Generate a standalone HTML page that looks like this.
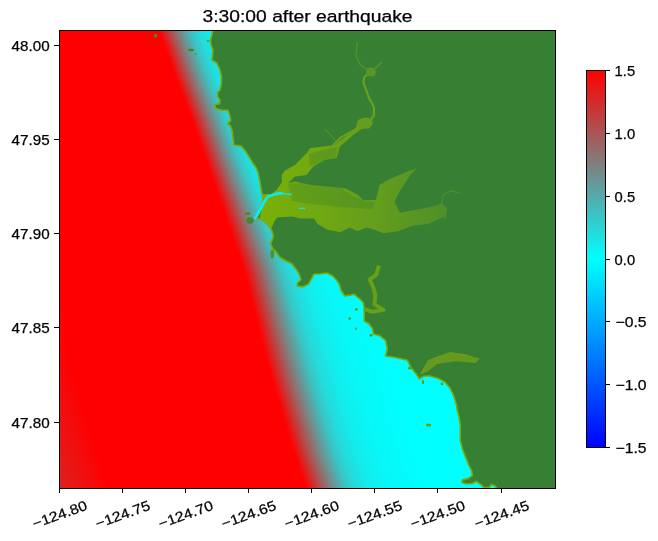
<!DOCTYPE html>
<html><head><meta charset="utf-8"><style>html,body{margin:0;padding:0;background:#fff;width:658px;height:541px;overflow:hidden;position:relative} svg{will-change:transform}</style></head>
<body>
<svg width="658" height="541" style="position:absolute;left:0;top:0">
<defs><linearGradient id="wg" gradientUnits="userSpaceOnUse" x1="-600" y1="0" x2="600" y2="0"><stop offset="0.0000" stop-color="rgb(212,43,43)"/><stop offset="0.2833" stop-color="rgb(212,43,43)"/><stop offset="0.3367" stop-color="rgb(255,0,0)"/><stop offset="0.5000" stop-color="rgb(255,0,0)"/><stop offset="0.5067" stop-color="rgb(212,43,43)"/><stop offset="0.5133" stop-color="rgb(168,87,87)"/><stop offset="0.5200" stop-color="rgb(128,128,128)"/><stop offset="0.5267" stop-color="rgb(92,163,163)"/><stop offset="0.5333" stop-color="rgb(59,196,196)"/><stop offset="0.5417" stop-color="rgb(36,219,219)"/><stop offset="0.5542" stop-color="rgb(18,237,237)"/><stop offset="0.5708" stop-color="rgb(8,247,247)"/><stop offset="0.5917" stop-color="rgb(3,252,252)"/><stop offset="0.6083" stop-color="rgb(0,255,255)"/><stop offset="1.0000" stop-color="rgb(0,255,255)"/></linearGradient><clipPath id="ax"><rect x="59" y="30" width="497" height="459"/></clipPath></defs>
<g clip-path="url(#ax)">
<rect x="59" y="30" width="497" height="459" fill="rgb(0,255,255)"/>
<g><rect x="-600" y="30" width="1200" height="2" transform="translate(159.07,0) scale(0.800,1)" fill="url(#wg)"/><rect x="-600" y="32" width="1200" height="2" transform="translate(159.78,0) scale(0.800,1)" fill="url(#wg)"/><rect x="-600" y="34" width="1200" height="2" transform="translate(160.49,0) scale(0.800,1)" fill="url(#wg)"/><rect x="-600" y="36" width="1200" height="2" transform="translate(161.20,0) scale(0.800,1)" fill="url(#wg)"/><rect x="-600" y="38" width="1200" height="2" transform="translate(161.91,0) scale(0.800,1)" fill="url(#wg)"/><rect x="-600" y="40" width="1200" height="2" transform="translate(162.62,0) scale(0.800,1)" fill="url(#wg)"/><rect x="-600" y="42" width="1200" height="2" transform="translate(163.34,0) scale(0.800,1)" fill="url(#wg)"/><rect x="-600" y="44" width="1200" height="2" transform="translate(164.05,0) scale(0.800,1)" fill="url(#wg)"/><rect x="-600" y="46" width="1200" height="2" transform="translate(164.76,0) scale(0.800,1)" fill="url(#wg)"/><rect x="-600" y="48" width="1200" height="2" transform="translate(165.47,0) scale(0.800,1)" fill="url(#wg)"/><rect x="-600" y="50" width="1200" height="2" transform="translate(166.18,0) scale(0.800,1)" fill="url(#wg)"/><rect x="-600" y="52" width="1200" height="2" transform="translate(166.89,0) scale(0.800,1)" fill="url(#wg)"/><rect x="-600" y="54" width="1200" height="2" transform="translate(167.61,0) scale(0.800,1)" fill="url(#wg)"/><rect x="-600" y="56" width="1200" height="2" transform="translate(168.32,0) scale(0.800,1)" fill="url(#wg)"/><rect x="-600" y="58" width="1200" height="2" transform="translate(169.03,0) scale(0.800,1)" fill="url(#wg)"/><rect x="-600" y="60" width="1200" height="2" transform="translate(169.74,0) scale(0.800,1)" fill="url(#wg)"/><rect x="-600" y="62" width="1200" height="2" transform="translate(170.45,0) scale(0.800,1)" fill="url(#wg)"/><rect x="-600" y="64" width="1200" height="2" transform="translate(171.16,0) scale(0.800,1)" fill="url(#wg)"/><rect x="-600" y="66" width="1200" height="2" transform="translate(171.88,0) scale(0.800,1)" fill="url(#wg)"/><rect x="-600" y="68" width="1200" height="2" transform="translate(172.59,0) scale(0.800,1)" fill="url(#wg)"/><rect x="-600" y="70" width="1200" height="2" transform="translate(173.30,0) scale(0.800,1)" fill="url(#wg)"/><rect x="-600" y="72" width="1200" height="2" transform="translate(174.01,0) scale(0.800,1)" fill="url(#wg)"/><rect x="-600" y="74" width="1200" height="2" transform="translate(174.72,0) scale(0.800,1)" fill="url(#wg)"/><rect x="-600" y="76" width="1200" height="2" transform="translate(175.43,0) scale(0.800,1)" fill="url(#wg)"/><rect x="-600" y="78" width="1200" height="2" transform="translate(176.14,0) scale(0.800,1)" fill="url(#wg)"/><rect x="-600" y="80" width="1200" height="2" transform="translate(176.89,0) scale(0.800,1)" fill="url(#wg)"/><rect x="-600" y="82" width="1200" height="2" transform="translate(177.66,0) scale(0.800,1)" fill="url(#wg)"/><rect x="-600" y="84" width="1200" height="2" transform="translate(178.44,0) scale(0.800,1)" fill="url(#wg)"/><rect x="-600" y="86" width="1200" height="2" transform="translate(179.21,0) scale(0.800,1)" fill="url(#wg)"/><rect x="-600" y="88" width="1200" height="2" transform="translate(179.99,0) scale(0.800,1)" fill="url(#wg)"/><rect x="-600" y="90" width="1200" height="2" transform="translate(180.76,0) scale(0.800,1)" fill="url(#wg)"/><rect x="-600" y="92" width="1200" height="2" transform="translate(181.54,0) scale(0.800,1)" fill="url(#wg)"/><rect x="-600" y="94" width="1200" height="2" transform="translate(182.31,0) scale(0.800,1)" fill="url(#wg)"/><rect x="-600" y="96" width="1200" height="2" transform="translate(183.09,0) scale(0.800,1)" fill="url(#wg)"/><rect x="-600" y="98" width="1200" height="2" transform="translate(183.86,0) scale(0.800,1)" fill="url(#wg)"/><rect x="-600" y="100" width="1200" height="2" transform="translate(184.64,0) scale(0.800,1)" fill="url(#wg)"/><rect x="-600" y="102" width="1200" height="2" transform="translate(185.41,0) scale(0.800,1)" fill="url(#wg)"/><rect x="-600" y="104" width="1200" height="2" transform="translate(186.19,0) scale(0.800,1)" fill="url(#wg)"/><rect x="-600" y="106" width="1200" height="2" transform="translate(186.96,0) scale(0.800,1)" fill="url(#wg)"/><rect x="-600" y="108" width="1200" height="2" transform="translate(187.74,0) scale(0.800,1)" fill="url(#wg)"/><rect x="-600" y="110" width="1200" height="2" transform="translate(188.51,0) scale(0.800,1)" fill="url(#wg)"/><rect x="-600" y="112" width="1200" height="2" transform="translate(189.29,0) scale(0.800,1)" fill="url(#wg)"/><rect x="-600" y="114" width="1200" height="2" transform="translate(190.06,0) scale(0.800,1)" fill="url(#wg)"/><rect x="-600" y="116" width="1200" height="2" transform="translate(190.84,0) scale(0.800,1)" fill="url(#wg)"/><rect x="-600" y="118" width="1200" height="2" transform="translate(191.61,0) scale(0.800,1)" fill="url(#wg)"/><rect x="-600" y="120" width="1200" height="2" transform="translate(192.35,0) scale(0.800,1)" fill="url(#wg)"/><rect x="-600" y="122" width="1200" height="2" transform="translate(193.05,0) scale(0.800,1)" fill="url(#wg)"/><rect x="-600" y="124" width="1200" height="2" transform="translate(193.75,0) scale(0.800,1)" fill="url(#wg)"/><rect x="-600" y="126" width="1200" height="2" transform="translate(194.45,0) scale(0.800,1)" fill="url(#wg)"/><rect x="-600" y="128" width="1200" height="2" transform="translate(195.15,0) scale(0.800,1)" fill="url(#wg)"/><rect x="-600" y="130" width="1200" height="2" transform="translate(195.85,0) scale(0.800,1)" fill="url(#wg)"/><rect x="-600" y="132" width="1200" height="2" transform="translate(196.55,0) scale(0.800,1)" fill="url(#wg)"/><rect x="-600" y="134" width="1200" height="2" transform="translate(197.25,0) scale(0.800,1)" fill="url(#wg)"/><rect x="-600" y="136" width="1200" height="2" transform="translate(197.95,0) scale(0.800,1)" fill="url(#wg)"/><rect x="-600" y="138" width="1200" height="2" transform="translate(198.65,0) scale(0.800,1)" fill="url(#wg)"/><rect x="-600" y="140" width="1200" height="2" transform="translate(199.35,0) scale(0.800,1)" fill="url(#wg)"/><rect x="-600" y="142" width="1200" height="2" transform="translate(200.05,0) scale(0.800,1)" fill="url(#wg)"/><rect x="-600" y="144" width="1200" height="2" transform="translate(200.75,0) scale(0.800,1)" fill="url(#wg)"/><rect x="-600" y="146" width="1200" height="2" transform="translate(201.45,0) scale(0.800,1)" fill="url(#wg)"/><rect x="-600" y="148" width="1200" height="2" transform="translate(202.15,0) scale(0.800,1)" fill="url(#wg)"/><rect x="-600" y="150" width="1200" height="2" transform="translate(202.85,0) scale(0.800,1)" fill="url(#wg)"/><rect x="-600" y="152" width="1200" height="2" transform="translate(203.55,0) scale(0.802,1)" fill="url(#wg)"/><rect x="-600" y="154" width="1200" height="2" transform="translate(204.25,0) scale(0.804,1)" fill="url(#wg)"/><rect x="-600" y="156" width="1200" height="2" transform="translate(204.95,0) scale(0.806,1)" fill="url(#wg)"/><rect x="-600" y="158" width="1200" height="2" transform="translate(205.65,0) scale(0.808,1)" fill="url(#wg)"/><rect x="-600" y="160" width="1200" height="2" transform="translate(206.35,0) scale(0.810,1)" fill="url(#wg)"/><rect x="-600" y="162" width="1200" height="2" transform="translate(207.05,0) scale(0.812,1)" fill="url(#wg)"/><rect x="-600" y="164" width="1200" height="2" transform="translate(207.75,0) scale(0.814,1)" fill="url(#wg)"/><rect x="-600" y="166" width="1200" height="2" transform="translate(208.45,0) scale(0.816,1)" fill="url(#wg)"/><rect x="-600" y="168" width="1200" height="2" transform="translate(209.15,0) scale(0.818,1)" fill="url(#wg)"/><rect x="-600" y="170" width="1200" height="2" transform="translate(209.85,0) scale(0.820,1)" fill="url(#wg)"/><rect x="-600" y="172" width="1200" height="2" transform="translate(210.55,0) scale(0.822,1)" fill="url(#wg)"/><rect x="-600" y="174" width="1200" height="2" transform="translate(211.25,0) scale(0.824,1)" fill="url(#wg)"/><rect x="-600" y="176" width="1200" height="2" transform="translate(211.95,0) scale(0.826,1)" fill="url(#wg)"/><rect x="-600" y="178" width="1200" height="2" transform="translate(212.65,0) scale(0.828,1)" fill="url(#wg)"/><rect x="-600" y="180" width="1200" height="2" transform="translate(213.35,0) scale(0.830,1)" fill="url(#wg)"/><rect x="-600" y="182" width="1200" height="2" transform="translate(214.05,0) scale(0.832,1)" fill="url(#wg)"/><rect x="-600" y="184" width="1200" height="2" transform="translate(214.75,0) scale(0.834,1)" fill="url(#wg)"/><rect x="-600" y="186" width="1200" height="2" transform="translate(215.45,0) scale(0.836,1)" fill="url(#wg)"/><rect x="-600" y="188" width="1200" height="2" transform="translate(216.15,0) scale(0.838,1)" fill="url(#wg)"/><rect x="-600" y="190" width="1200" height="2" transform="translate(216.85,0) scale(0.840,1)" fill="url(#wg)"/><rect x="-600" y="192" width="1200" height="2" transform="translate(217.55,0) scale(0.842,1)" fill="url(#wg)"/><rect x="-600" y="194" width="1200" height="2" transform="translate(218.25,0) scale(0.844,1)" fill="url(#wg)"/><rect x="-600" y="196" width="1200" height="2" transform="translate(218.95,0) scale(0.846,1)" fill="url(#wg)"/><rect x="-600" y="198" width="1200" height="2" transform="translate(219.65,0) scale(0.848,1)" fill="url(#wg)"/><rect x="-600" y="200" width="1200" height="2" transform="translate(220.34,0) scale(0.850,1)" fill="url(#wg)"/><rect x="-600" y="202" width="1200" height="2" transform="translate(221.03,0) scale(0.852,1)" fill="url(#wg)"/><rect x="-600" y="204" width="1200" height="2" transform="translate(221.71,0) scale(0.854,1)" fill="url(#wg)"/><rect x="-600" y="206" width="1200" height="2" transform="translate(222.40,0) scale(0.856,1)" fill="url(#wg)"/><rect x="-600" y="208" width="1200" height="2" transform="translate(223.09,0) scale(0.858,1)" fill="url(#wg)"/><rect x="-600" y="210" width="1200" height="2" transform="translate(223.77,0) scale(0.860,1)" fill="url(#wg)"/><rect x="-600" y="212" width="1200" height="2" transform="translate(224.46,0) scale(0.862,1)" fill="url(#wg)"/><rect x="-600" y="214" width="1200" height="2" transform="translate(225.14,0) scale(0.864,1)" fill="url(#wg)"/><rect x="-600" y="216" width="1200" height="2" transform="translate(225.83,0) scale(0.866,1)" fill="url(#wg)"/><rect x="-600" y="218" width="1200" height="2" transform="translate(226.51,0) scale(0.868,1)" fill="url(#wg)"/><rect x="-600" y="220" width="1200" height="2" transform="translate(227.20,0) scale(0.870,1)" fill="url(#wg)"/><rect x="-600" y="222" width="1200" height="2" transform="translate(227.89,0) scale(0.872,1)" fill="url(#wg)"/><rect x="-600" y="224" width="1200" height="2" transform="translate(228.57,0) scale(0.874,1)" fill="url(#wg)"/><rect x="-600" y="226" width="1200" height="2" transform="translate(229.26,0) scale(0.876,1)" fill="url(#wg)"/><rect x="-600" y="228" width="1200" height="2" transform="translate(229.94,0) scale(0.878,1)" fill="url(#wg)"/><rect x="-600" y="230" width="1200" height="2" transform="translate(230.63,0) scale(0.880,1)" fill="url(#wg)"/><rect x="-600" y="232" width="1200" height="2" transform="translate(231.31,0) scale(0.882,1)" fill="url(#wg)"/><rect x="-600" y="234" width="1200" height="2" transform="translate(232.00,0) scale(0.884,1)" fill="url(#wg)"/><rect x="-600" y="236" width="1200" height="2" transform="translate(232.69,0) scale(0.886,1)" fill="url(#wg)"/><rect x="-600" y="238" width="1200" height="2" transform="translate(233.37,0) scale(0.888,1)" fill="url(#wg)"/><rect x="-600" y="240" width="1200" height="2" transform="translate(234.06,0) scale(0.890,1)" fill="url(#wg)"/><rect x="-600" y="242" width="1200" height="2" transform="translate(234.74,0) scale(0.892,1)" fill="url(#wg)"/><rect x="-600" y="244" width="1200" height="2" transform="translate(235.43,0) scale(0.894,1)" fill="url(#wg)"/><rect x="-600" y="246" width="1200" height="2" transform="translate(236.11,0) scale(0.896,1)" fill="url(#wg)"/><rect x="-600" y="248" width="1200" height="2" transform="translate(236.80,0) scale(0.898,1)" fill="url(#wg)"/><rect x="-600" y="250" width="1200" height="2" transform="translate(237.49,0) scale(0.900,1)" fill="url(#wg)"/><rect x="-600" y="252" width="1200" height="2" transform="translate(238.17,0) scale(0.902,1)" fill="url(#wg)"/><rect x="-600" y="254" width="1200" height="2" transform="translate(238.86,0) scale(0.904,1)" fill="url(#wg)"/><rect x="-600" y="256" width="1200" height="2" transform="translate(239.54,0) scale(0.906,1)" fill="url(#wg)"/><rect x="-600" y="258" width="1200" height="2" transform="translate(240.23,0) scale(0.908,1)" fill="url(#wg)"/><rect x="-600" y="260" width="1200" height="2" transform="translate(240.91,0) scale(0.910,1)" fill="url(#wg)"/><rect x="-600" y="262" width="1200" height="2" transform="translate(241.60,0) scale(0.912,1)" fill="url(#wg)"/><rect x="-600" y="264" width="1200" height="2" transform="translate(242.29,0) scale(0.914,1)" fill="url(#wg)"/><rect x="-600" y="266" width="1200" height="2" transform="translate(242.97,0) scale(0.916,1)" fill="url(#wg)"/><rect x="-600" y="268" width="1200" height="2" transform="translate(243.66,0) scale(0.918,1)" fill="url(#wg)"/><rect x="-600" y="270" width="1200" height="2" transform="translate(244.25,0) scale(0.920,1)" fill="url(#wg)"/><rect x="-600" y="272" width="1200" height="2" transform="translate(244.75,0) scale(0.922,1)" fill="url(#wg)"/><rect x="-600" y="274" width="1200" height="2" transform="translate(245.25,0) scale(0.924,1)" fill="url(#wg)"/><rect x="-600" y="276" width="1200" height="2" transform="translate(245.75,0) scale(0.926,1)" fill="url(#wg)"/><rect x="-600" y="278" width="1200" height="2" transform="translate(246.25,0) scale(0.928,1)" fill="url(#wg)"/><rect x="-600" y="280" width="1200" height="2" transform="translate(246.75,0) scale(0.930,1)" fill="url(#wg)"/><rect x="-600" y="282" width="1200" height="2" transform="translate(247.25,0) scale(0.932,1)" fill="url(#wg)"/><rect x="-600" y="284" width="1200" height="2" transform="translate(247.75,0) scale(0.934,1)" fill="url(#wg)"/><rect x="-600" y="286" width="1200" height="2" transform="translate(248.25,0) scale(0.936,1)" fill="url(#wg)"/><rect x="-600" y="288" width="1200" height="2" transform="translate(248.75,0) scale(0.938,1)" fill="url(#wg)"/><rect x="-600" y="290" width="1200" height="2" transform="translate(249.25,0) scale(0.940,1)" fill="url(#wg)"/><rect x="-600" y="292" width="1200" height="2" transform="translate(249.75,0) scale(0.942,1)" fill="url(#wg)"/><rect x="-600" y="294" width="1200" height="2" transform="translate(250.25,0) scale(0.944,1)" fill="url(#wg)"/><rect x="-600" y="296" width="1200" height="2" transform="translate(250.75,0) scale(0.946,1)" fill="url(#wg)"/><rect x="-600" y="298" width="1200" height="2" transform="translate(251.25,0) scale(0.948,1)" fill="url(#wg)"/><rect x="-600" y="300" width="1200" height="2" transform="translate(251.75,0) scale(0.950,1)" fill="url(#wg)"/><rect x="-600" y="302" width="1200" height="2" transform="translate(252.25,0) scale(0.952,1)" fill="url(#wg)"/><rect x="-600" y="304" width="1200" height="2" transform="translate(252.75,0) scale(0.954,1)" fill="url(#wg)"/><rect x="-600" y="306" width="1200" height="2" transform="translate(253.25,0) scale(0.956,1)" fill="url(#wg)"/><rect x="-600" y="308" width="1200" height="2" transform="translate(253.75,0) scale(0.958,1)" fill="url(#wg)"/><rect x="-600" y="310" width="1200" height="2" transform="translate(254.25,0) scale(0.960,1)" fill="url(#wg)"/><rect x="-600" y="312" width="1200" height="2" transform="translate(254.75,0) scale(0.962,1)" fill="url(#wg)"/><rect x="-600" y="314" width="1200" height="2" transform="translate(255.25,0) scale(0.964,1)" fill="url(#wg)"/><rect x="-600" y="316" width="1200" height="2" transform="translate(255.75,0) scale(0.966,1)" fill="url(#wg)"/><rect x="-600" y="318" width="1200" height="2" transform="translate(256.25,0) scale(0.968,1)" fill="url(#wg)"/><rect x="-600" y="320" width="1200" height="2" transform="translate(256.75,0) scale(0.970,1)" fill="url(#wg)"/><rect x="-600" y="322" width="1200" height="2" transform="translate(257.25,0) scale(0.972,1)" fill="url(#wg)"/><rect x="-600" y="324" width="1200" height="2" transform="translate(257.75,0) scale(0.974,1)" fill="url(#wg)"/><rect x="-600" y="326" width="1200" height="2" transform="translate(258.25,0) scale(0.976,1)" fill="url(#wg)"/><rect x="-600" y="328" width="1200" height="2" transform="translate(258.75,0) scale(0.978,1)" fill="url(#wg)"/><rect x="-600" y="330" width="1200" height="2" transform="translate(259.25,0) scale(0.980,1)" fill="url(#wg)"/><rect x="-600" y="332" width="1200" height="2" transform="translate(259.75,0) scale(0.982,1)" fill="url(#wg)"/><rect x="-600" y="334" width="1200" height="2" transform="translate(260.25,0) scale(0.984,1)" fill="url(#wg)"/><rect x="-600" y="336" width="1200" height="2" transform="translate(260.75,0) scale(0.986,1)" fill="url(#wg)"/><rect x="-600" y="338" width="1200" height="2" transform="translate(261.25,0) scale(0.988,1)" fill="url(#wg)"/><rect x="-600" y="340" width="1200" height="2" transform="translate(261.75,0) scale(0.990,1)" fill="url(#wg)"/><rect x="-600" y="342" width="1200" height="2" transform="translate(262.25,0) scale(0.992,1)" fill="url(#wg)"/><rect x="-600" y="344" width="1200" height="2" transform="translate(262.75,0) scale(0.994,1)" fill="url(#wg)"/><rect x="-600" y="346" width="1200" height="2" transform="translate(263.25,0) scale(0.996,1)" fill="url(#wg)"/><rect x="-600" y="348" width="1200" height="2" transform="translate(263.75,0) scale(0.998,1)" fill="url(#wg)"/><rect x="-600" y="350" width="1200" height="2" transform="translate(264.27,0) scale(1.000,1)" fill="url(#wg)"/><rect x="-600" y="352" width="1200" height="2" transform="translate(264.80,0) scale(1.000,1)" fill="url(#wg)"/><rect x="-600" y="354" width="1200" height="2" transform="translate(265.33,0) scale(1.000,1)" fill="url(#wg)"/><rect x="-600" y="356" width="1200" height="2" transform="translate(265.87,0) scale(1.000,1)" fill="url(#wg)"/><rect x="-600" y="358" width="1200" height="2" transform="translate(266.40,0) scale(1.000,1)" fill="url(#wg)"/><rect x="-600" y="360" width="1200" height="2" transform="translate(266.93,0) scale(1.000,1)" fill="url(#wg)"/><rect x="-600" y="362" width="1200" height="2" transform="translate(267.47,0) scale(1.000,1)" fill="url(#wg)"/><rect x="-600" y="364" width="1200" height="2" transform="translate(268.00,0) scale(1.000,1)" fill="url(#wg)"/><rect x="-600" y="366" width="1200" height="2" transform="translate(268.53,0) scale(1.000,1)" fill="url(#wg)"/><rect x="-600" y="368" width="1200" height="2" transform="translate(269.07,0) scale(1.000,1)" fill="url(#wg)"/><rect x="-600" y="370" width="1200" height="2" transform="translate(269.60,0) scale(1.000,1)" fill="url(#wg)"/><rect x="-600" y="372" width="1200" height="2" transform="translate(270.13,0) scale(1.000,1)" fill="url(#wg)"/><rect x="-600" y="374" width="1200" height="2" transform="translate(270.67,0) scale(1.000,1)" fill="url(#wg)"/><rect x="-600" y="376" width="1200" height="2" transform="translate(271.20,0) scale(1.000,1)" fill="url(#wg)"/><rect x="-600" y="378" width="1200" height="2" transform="translate(271.73,0) scale(1.000,1)" fill="url(#wg)"/><rect x="-600" y="380" width="1200" height="2" transform="translate(272.30,0) scale(1.000,1)" fill="url(#wg)"/><rect x="-600" y="382" width="1200" height="2" transform="translate(272.90,0) scale(1.000,1)" fill="url(#wg)"/><rect x="-600" y="384" width="1200" height="2" transform="translate(273.50,0) scale(1.000,1)" fill="url(#wg)"/><rect x="-600" y="386" width="1200" height="2" transform="translate(274.10,0) scale(1.000,1)" fill="url(#wg)"/><rect x="-600" y="388" width="1200" height="2" transform="translate(274.70,0) scale(1.000,1)" fill="url(#wg)"/><rect x="-600" y="390" width="1200" height="2" transform="translate(275.30,0) scale(1.000,1)" fill="url(#wg)"/><rect x="-600" y="392" width="1200" height="2" transform="translate(275.90,0) scale(1.000,1)" fill="url(#wg)"/><rect x="-600" y="394" width="1200" height="2" transform="translate(276.50,0) scale(1.000,1)" fill="url(#wg)"/><rect x="-600" y="396" width="1200" height="2" transform="translate(277.10,0) scale(1.000,1)" fill="url(#wg)"/><rect x="-600" y="398" width="1200" height="2" transform="translate(277.70,0) scale(1.000,1)" fill="url(#wg)"/><rect x="-600" y="400" width="1200" height="2" transform="translate(278.30,0) scale(1.000,1)" fill="url(#wg)"/><rect x="-600" y="402" width="1200" height="2" transform="translate(278.90,0) scale(1.000,1)" fill="url(#wg)"/><rect x="-600" y="404" width="1200" height="2" transform="translate(279.50,0) scale(1.000,1)" fill="url(#wg)"/><rect x="-600" y="406" width="1200" height="2" transform="translate(280.10,0) scale(1.000,1)" fill="url(#wg)"/><rect x="-600" y="408" width="1200" height="2" transform="translate(280.70,0) scale(1.000,1)" fill="url(#wg)"/><rect x="-600" y="410" width="1200" height="2" transform="translate(281.30,0) scale(1.000,1)" fill="url(#wg)"/><rect x="-600" y="412" width="1200" height="2" transform="translate(281.90,0) scale(1.000,1)" fill="url(#wg)"/><rect x="-600" y="414" width="1200" height="2" transform="translate(282.50,0) scale(1.000,1)" fill="url(#wg)"/><rect x="-600" y="416" width="1200" height="2" transform="translate(283.10,0) scale(1.000,1)" fill="url(#wg)"/><rect x="-600" y="418" width="1200" height="2" transform="translate(283.70,0) scale(1.000,1)" fill="url(#wg)"/><rect x="-600" y="420" width="1200" height="2" transform="translate(284.30,0) scale(1.000,1)" fill="url(#wg)"/><rect x="-600" y="422" width="1200" height="2" transform="translate(284.90,0) scale(1.000,1)" fill="url(#wg)"/><rect x="-600" y="424" width="1200" height="2" transform="translate(285.50,0) scale(1.000,1)" fill="url(#wg)"/><rect x="-600" y="426" width="1200" height="2" transform="translate(286.10,0) scale(1.000,1)" fill="url(#wg)"/><rect x="-600" y="428" width="1200" height="2" transform="translate(286.70,0) scale(1.000,1)" fill="url(#wg)"/><rect x="-600" y="430" width="1200" height="2" transform="translate(287.30,0) scale(1.000,1)" fill="url(#wg)"/><rect x="-600" y="432" width="1200" height="2" transform="translate(287.90,0) scale(1.000,1)" fill="url(#wg)"/><rect x="-600" y="434" width="1200" height="2" transform="translate(288.50,0) scale(1.000,1)" fill="url(#wg)"/><rect x="-600" y="436" width="1200" height="2" transform="translate(289.10,0) scale(1.000,1)" fill="url(#wg)"/><rect x="-600" y="438" width="1200" height="2" transform="translate(289.70,0) scale(1.000,1)" fill="url(#wg)"/><rect x="-600" y="440" width="1200" height="2" transform="translate(290.30,0) scale(1.000,1)" fill="url(#wg)"/><rect x="-600" y="442" width="1200" height="2" transform="translate(290.90,0) scale(1.000,1)" fill="url(#wg)"/><rect x="-600" y="444" width="1200" height="2" transform="translate(291.50,0) scale(1.000,1)" fill="url(#wg)"/><rect x="-600" y="446" width="1200" height="2" transform="translate(292.10,0) scale(1.000,1)" fill="url(#wg)"/><rect x="-600" y="448" width="1200" height="2" transform="translate(292.70,0) scale(1.000,1)" fill="url(#wg)"/><rect x="-600" y="450" width="1200" height="2" transform="translate(293.30,0) scale(1.000,1)" fill="url(#wg)"/><rect x="-600" y="452" width="1200" height="2" transform="translate(293.90,0) scale(1.000,1)" fill="url(#wg)"/><rect x="-600" y="454" width="1200" height="2" transform="translate(294.50,0) scale(1.000,1)" fill="url(#wg)"/><rect x="-600" y="456" width="1200" height="2" transform="translate(295.20,0) scale(1.000,1)" fill="url(#wg)"/><rect x="-600" y="458" width="1200" height="2" transform="translate(295.91,0) scale(1.000,1)" fill="url(#wg)"/><rect x="-600" y="460" width="1200" height="2" transform="translate(296.61,0) scale(1.000,1)" fill="url(#wg)"/><rect x="-600" y="462" width="1200" height="2" transform="translate(297.31,0) scale(1.000,1)" fill="url(#wg)"/><rect x="-600" y="464" width="1200" height="2" transform="translate(298.01,0) scale(1.000,1)" fill="url(#wg)"/><rect x="-600" y="466" width="1200" height="2" transform="translate(298.72,0) scale(1.000,1)" fill="url(#wg)"/><rect x="-600" y="468" width="1200" height="2" transform="translate(299.42,0) scale(1.000,1)" fill="url(#wg)"/><rect x="-600" y="470" width="1200" height="2" transform="translate(300.12,0) scale(1.000,1)" fill="url(#wg)"/><rect x="-600" y="472" width="1200" height="2" transform="translate(300.83,0) scale(1.000,1)" fill="url(#wg)"/><rect x="-600" y="474" width="1200" height="2" transform="translate(301.53,0) scale(1.000,1)" fill="url(#wg)"/><rect x="-600" y="476" width="1200" height="2" transform="translate(302.23,0) scale(1.000,1)" fill="url(#wg)"/><rect x="-600" y="478" width="1200" height="2" transform="translate(302.93,0) scale(1.000,1)" fill="url(#wg)"/><rect x="-600" y="480" width="1200" height="2" transform="translate(303.64,0) scale(1.000,1)" fill="url(#wg)"/><rect x="-600" y="482" width="1200" height="2" transform="translate(304.34,0) scale(1.000,1)" fill="url(#wg)"/><rect x="-600" y="484" width="1200" height="2" transform="translate(305.04,0) scale(1.000,1)" fill="url(#wg)"/><rect x="-600" y="486" width="1200" height="2" transform="translate(305.75,0) scale(1.000,1)" fill="url(#wg)"/><rect x="-600" y="488" width="1200" height="2" transform="translate(306.45,0) scale(1.000,1)" fill="url(#wg)"/></g>
<polygon points="213.0,29.0 212.0,35.0 210.5,40.0 211.0,44.6 213.0,50.0 212.0,60.0 216.8,63.0 219.6,68.7 221.4,76.0 221.4,83.5 220.0,90.0 217.7,92.0 217.7,96.4 220.0,100.0 219.6,103.8 214.4,104.7 216.0,108.4 222.3,110.3 228.0,110.3 229.7,115.0 230.7,120.4 227.6,123.7 230.3,125.5 232.2,131.1 233.1,138.5 233.9,145.0 241.1,146.1 245.5,151.1 248.9,156.6 252.2,162.2 256.1,167.7 258.3,173.3 260.0,182.1 261.1,188.8 262.2,194.3 263.0,200.0 261.3,208.0 258.5,215.0 256.0,219.0 260.3,218.5 267.7,224.0 271.4,229.6 273.3,236.0 272.3,239.7 270.5,243.4 272.3,248.0 276.0,251.8 279.7,257.3 286.2,261.0 291.8,263.8 295.5,268.4 299.2,274.0 301.0,279.5 297.3,283.2 297.3,286.0 302.8,286.9 308.4,284.1 312.1,277.6 314.0,274.0 319.5,274.0 326.9,273.0 332.4,275.8 336.0,279.5 339.2,284.0 341.1,290.5 344.8,296.0 350.3,295.1 354.0,294.2 359.6,298.8 363.3,302.5 364.2,308.0 364.2,313.6 364.2,321.0 368.8,323.8 372.5,328.4 373.4,334.0 380.0,335.8 385.5,340.4 387.3,348.7 385.5,356.0 392.8,357.0 400.0,358.5 407.4,360.3 411.1,367.7 415.7,373.3 419.4,378.8 424.0,376.0 429.6,376.0 437.0,377.9 444.4,381.6 449.9,388.0 453.6,395.5 456.4,404.7 457.2,410.0 458.8,416.1 460.3,425.2 460.3,440.4 462.6,449.5 465.6,457.1 468.6,464.7 471.7,470.8 472.4,475.3 468.6,478.4 462.6,479.9 461.8,482.2 465.6,483.7 471.7,483.7 476.2,481.4 480.8,484.5 483.8,487.5 489.1,487.5 491.4,484.5 495.2,486.0 497.5,490.0 560.0,490.0 560.0,25.0 213.0,25.0" fill="rgb(55,127,51)" stroke="rgb(120,170,10)" stroke-width="1.6" stroke-linejoin="round"/>
<defs><linearGradient id="eg" gradientUnits="userSpaceOnUse" x1="262" y1="0" x2="452" y2="0"><stop offset="0" stop-color="rgb(122,176,8)"/><stop offset="0.3" stop-color="rgb(112,168,18)"/><stop offset="0.6" stop-color="rgb(100,158,28)"/><stop offset="1" stop-color="rgb(78,142,42)"/></linearGradient></defs>
<polygon points="262.2,194.3 271.0,194.3 276.6,189.9 282.1,182.1 281.6,175.5 284.3,171.0 290.0,167.7 295.0,164.9 306.6,153.3 310.0,148.3 323.2,146.6 334.9,145.0 343.2,138.3 354.9,130.0 358.2,120.0 364.8,117.5 370.0,118.3 370.0,128.3 361.5,129.1 353.2,135.0 339.9,146.6 336.6,158.3 324.9,160.0 313.3,166.6 306.6,174.9 295.0,176.6 288.3,183.2 295.0,181.5 311.6,184.9 328.2,186.5 344.9,188.2 350.0,190.7 357.4,194.4 363.0,200.0 375.9,200.0 379.6,185.1 388.8,179.6 405.5,172.2 416.5,168.5 411.0,174.0 400.0,190.7 394.4,201.8 400.0,212.8 420.2,209.1 436.9,205.5 441.0,203.0 447.0,208.0 446.0,216.0 427.6,224.0 412.8,225.8 398.0,231.3 383.3,233.2 374.0,229.5 366.6,227.6 357.4,231.3 350.0,227.6 340.0,232.3 326.9,229.6 317.6,224.0 314.0,218.5 301.0,218.5 291.8,216.6 277.0,217.6 275.0,220.3 271.0,229.0 260.0,218.0 263.0,200.0" fill="url(#eg)"/>
<polygon points="288,184 312,182 339,186 351,195 363,200 375,203 372,209 340,207 310,204 292,201" fill="rgb(55,127,51)" fill-opacity="0.3"/>
<polygon points="310,166 336,159 337,147 323,150 309,154" fill="rgb(55,127,51)" fill-opacity="0.3"/>
<polyline points="445.3,219.4 441.5,204 443.4,194.5 451,190.6 460.6,193.5" fill="none" stroke="rgb(75,145,45)" stroke-width="1.2"/>
<polygon points="419.4,375.0 427.7,360.3 437.0,356.6 449.9,352.0 464.7,353.9 479.5,358.5 475.8,363.1 455.5,361.3 437.0,364.0 427.7,371.4" fill="rgb(100,155,30)"/>
<polyline points="364.0,309.0 372.5,311.8 383.6,309.9 374.4,304.4 375.3,295.1 373.4,287.7 369.7,279.4 376.2,274.8 379.0,265.5" fill="none" stroke="rgb(105,160,25)" stroke-width="4" stroke-linejoin="round"/>
<polyline points="370.0,72.0 364.3,77.2 363.5,82.7 368.4,96.4 373.9,107.3 373.9,115.5 369.0,122.0 362.0,127.0 356.0,129.2 341.0,137.4 332.8,145.6" fill="none" stroke="rgb(105,160,28)" stroke-width="2.2" stroke-linejoin="round"/>
<polyline points="357.4,41.7 356.0,55.4 360.2,64.9 368.0,70.0" fill="none" stroke="rgb(80,145,40)" stroke-width="1.5" stroke-linejoin="round"/>
<polyline points="324.6,129.2 335.6,140.2" fill="none" stroke="rgb(80,145,40)" stroke-width="1.2"/>
<ellipse cx="371" cy="72" rx="5" ry="4.5" fill="rgb(88,150,38)"/>
<ellipse cx="365" cy="123" rx="8" ry="4.5" fill="rgb(100,158,30)"/>
<polyline points="371,72 382,62" fill="none" stroke="rgb(90,150,35)" stroke-width="1.5"/>
<ellipse cx="247.5" cy="213.5" rx="3" ry="1.6" fill="rgb(80,140,35)"/>
<ellipse cx="250" cy="220.5" rx="3.6" ry="3.2" fill="rgb(70,135,40)"/>
<ellipse cx="272.3" cy="254" rx="1.8" ry="4.5" fill="rgb(80,145,35)"/>
<ellipse cx="155.5" cy="35.8" rx="1.5" ry="2" fill="rgb(70,150,20)"/>
<ellipse cx="191" cy="50" rx="3" ry="1.2" fill="rgb(60,135,40)"/>
<ellipse cx="195.5" cy="54" rx="1" ry="1" fill="rgb(100,160,20)"/>
<ellipse cx="208" cy="41" rx="1.3" ry="1" fill="rgb(100,160,20)"/>
<ellipse cx="356.3" cy="309.4" rx="1.4" ry="1.4" fill="rgb(100,150,20)"/>
<ellipse cx="349.6" cy="318.6" rx="1.2" ry="1.4" fill="rgb(100,150,20)"/>
<ellipse cx="355.9" cy="328.8" rx="1" ry="1.3" fill="rgb(100,150,20)"/>
<ellipse cx="371" cy="335.3" rx="1.5" ry="1.4" fill="rgb(100,150,20)"/>
<ellipse cx="409.6" cy="368.2" rx="1.4" ry="1.4" fill="rgb(100,150,20)"/>
<ellipse cx="423" cy="382" rx="1" ry="2.3" fill="rgb(100,150,20)"/>
<ellipse cx="442" cy="383.9" rx="1.4" ry="1.4" fill="rgb(100,150,20)"/>
<ellipse cx="428.6" cy="425" rx="2.8" ry="1.6" fill="rgb(110,160,15)"/>
<ellipse cx="375" cy="306" rx="1.5" ry="1.2" fill="rgb(100,150,20)"/>
<polyline points="283.0,193.2 276.0,194.0 268.0,196.5 264.0,202.0 261.0,208.0 257.0,215.0 254.5,219.0" fill="none" stroke="rgb(15,232,238)" stroke-width="2.8" stroke-linejoin="round"/>
<polyline points="292.0,194.5 283.0,193.6" fill="none" stroke="rgb(15,232,238)" stroke-width="1.3"/>
<line x1="299" y1="208.3" x2="305" y2="208.3" stroke="rgb(15,232,238)" stroke-width="1.2"/>
</g>
<rect x="59.5" y="30.5" width="496" height="458" fill="none" stroke="#000" stroke-width="1"/>
<line x1="54" y1="45.5" x2="59" y2="45.5" stroke="#000" stroke-width="1"/>
<text x="49.6" y="51.1" font-family="Liberation Sans, sans-serif" stroke="#000" stroke-width="0.25" font-size="13.9" text-anchor="end" textLength="38" lengthAdjust="spacingAndGlyphs">48.00</text>
<line x1="54" y1="139.5" x2="59" y2="139.5" stroke="#000" stroke-width="1"/>
<text x="49.6" y="145.1" font-family="Liberation Sans, sans-serif" stroke="#000" stroke-width="0.25" font-size="13.9" text-anchor="end" textLength="38" lengthAdjust="spacingAndGlyphs">47.95</text>
<line x1="54" y1="233.5" x2="59" y2="233.5" stroke="#000" stroke-width="1"/>
<text x="49.6" y="239.1" font-family="Liberation Sans, sans-serif" stroke="#000" stroke-width="0.25" font-size="13.9" text-anchor="end" textLength="38" lengthAdjust="spacingAndGlyphs">47.90</text>
<line x1="54" y1="327.5" x2="59" y2="327.5" stroke="#000" stroke-width="1"/>
<text x="49.6" y="333.1" font-family="Liberation Sans, sans-serif" stroke="#000" stroke-width="0.25" font-size="13.9" text-anchor="end" textLength="38" lengthAdjust="spacingAndGlyphs">47.85</text>
<line x1="54" y1="422.5" x2="59" y2="422.5" stroke="#000" stroke-width="1"/>
<text x="49.6" y="428.1" font-family="Liberation Sans, sans-serif" stroke="#000" stroke-width="0.25" font-size="13.9" text-anchor="end" textLength="38" lengthAdjust="spacingAndGlyphs">47.80</text>
<line x1="59.5" y1="488" x2="59.5" y2="493" stroke="#000" stroke-width="1"/>
<g transform="translate(59.5,513.8) rotate(-20)"><text x="0" y="5.5" font-family="Liberation Sans, sans-serif" stroke="#000" stroke-width="0.25" font-size="13.9" text-anchor="middle" textLength="57" lengthAdjust="spacingAndGlyphs">−124.80</text></g>
<line x1="122.5" y1="488" x2="122.5" y2="493" stroke="#000" stroke-width="1"/>
<g transform="translate(122.5,513.8) rotate(-20)"><text x="0" y="5.5" font-family="Liberation Sans, sans-serif" stroke="#000" stroke-width="0.25" font-size="13.9" text-anchor="middle" textLength="57" lengthAdjust="spacingAndGlyphs">−124.75</text></g>
<line x1="185.5" y1="488" x2="185.5" y2="493" stroke="#000" stroke-width="1"/>
<g transform="translate(185.5,513.8) rotate(-20)"><text x="0" y="5.5" font-family="Liberation Sans, sans-serif" stroke="#000" stroke-width="0.25" font-size="13.9" text-anchor="middle" textLength="57" lengthAdjust="spacingAndGlyphs">−124.70</text></g>
<line x1="248.5" y1="488" x2="248.5" y2="493" stroke="#000" stroke-width="1"/>
<g transform="translate(248.5,513.8) rotate(-20)"><text x="0" y="5.5" font-family="Liberation Sans, sans-serif" stroke="#000" stroke-width="0.25" font-size="13.9" text-anchor="middle" textLength="57" lengthAdjust="spacingAndGlyphs">−124.65</text></g>
<line x1="311.5" y1="488" x2="311.5" y2="493" stroke="#000" stroke-width="1"/>
<g transform="translate(311.5,513.8) rotate(-20)"><text x="0" y="5.5" font-family="Liberation Sans, sans-serif" stroke="#000" stroke-width="0.25" font-size="13.9" text-anchor="middle" textLength="57" lengthAdjust="spacingAndGlyphs">−124.60</text></g>
<line x1="374.5" y1="488" x2="374.5" y2="493" stroke="#000" stroke-width="1"/>
<g transform="translate(374.5,513.8) rotate(-20)"><text x="0" y="5.5" font-family="Liberation Sans, sans-serif" stroke="#000" stroke-width="0.25" font-size="13.9" text-anchor="middle" textLength="57" lengthAdjust="spacingAndGlyphs">−124.55</text></g>
<line x1="437.5" y1="488" x2="437.5" y2="493" stroke="#000" stroke-width="1"/>
<g transform="translate(437.5,513.8) rotate(-20)"><text x="0" y="5.5" font-family="Liberation Sans, sans-serif" stroke="#000" stroke-width="0.25" font-size="13.9" text-anchor="middle" textLength="57" lengthAdjust="spacingAndGlyphs">−124.50</text></g>
<line x1="501.5" y1="488" x2="501.5" y2="493" stroke="#000" stroke-width="1"/>
<g transform="translate(501.5,513.8) rotate(-20)"><text x="0" y="5.5" font-family="Liberation Sans, sans-serif" stroke="#000" stroke-width="0.25" font-size="13.9" text-anchor="middle" textLength="57" lengthAdjust="spacingAndGlyphs">−124.45</text></g>
<defs><linearGradient id="cb" x1="0" y1="1" x2="0" y2="0"><stop offset="0" stop-color="rgb(0,0,255)"/><stop offset="0.5" stop-color="rgb(0,255,255)"/><stop offset="1" stop-color="rgb(255,0,0)"/></linearGradient></defs>
<rect x="586" y="70" width="20" height="378" fill="url(#cb)"/>
<rect x="586.5" y="70.5" width="19" height="377" fill="none" stroke="#000" stroke-width="1"/>
<line x1="605" y1="70.5" x2="610" y2="70.5" stroke="#000" stroke-width="1"/>
<text x="614.6" y="76.1" font-family="Liberation Sans, sans-serif" stroke="#000" stroke-width="0.25" font-size="13.9" textLength="20.5" lengthAdjust="spacingAndGlyphs">1.5</text>
<line x1="605" y1="133.5" x2="610" y2="133.5" stroke="#000" stroke-width="1"/>
<text x="614.6" y="139.1" font-family="Liberation Sans, sans-serif" stroke="#000" stroke-width="0.25" font-size="13.9" textLength="20.5" lengthAdjust="spacingAndGlyphs">1.0</text>
<line x1="605" y1="196.5" x2="610" y2="196.5" stroke="#000" stroke-width="1"/>
<text x="614.6" y="202.1" font-family="Liberation Sans, sans-serif" stroke="#000" stroke-width="0.25" font-size="13.9" textLength="20.5" lengthAdjust="spacingAndGlyphs">0.5</text>
<line x1="605" y1="259.5" x2="610" y2="259.5" stroke="#000" stroke-width="1"/>
<text x="614.6" y="265.1" font-family="Liberation Sans, sans-serif" stroke="#000" stroke-width="0.25" font-size="13.9" textLength="20.5" lengthAdjust="spacingAndGlyphs">0.0</text>
<line x1="605" y1="321.5" x2="610" y2="321.5" stroke="#000" stroke-width="1"/>
<text x="615.5" y="327.1" font-family="Liberation Sans, sans-serif" stroke="#000" stroke-width="0.25" font-size="13.9" textLength="31" lengthAdjust="spacingAndGlyphs">−0.5</text>
<line x1="605" y1="384.5" x2="610" y2="384.5" stroke="#000" stroke-width="1"/>
<text x="615.5" y="390.1" font-family="Liberation Sans, sans-serif" stroke="#000" stroke-width="0.25" font-size="13.9" textLength="31" lengthAdjust="spacingAndGlyphs">−1.0</text>
<line x1="605" y1="447.5" x2="610" y2="447.5" stroke="#000" stroke-width="1"/>
<text x="615.5" y="453.1" font-family="Liberation Sans, sans-serif" stroke="#000" stroke-width="0.25" font-size="13.9" textLength="31" lengthAdjust="spacingAndGlyphs">−1.5</text>
<text x="307.5" y="22" font-family="Liberation Sans, sans-serif" stroke="#000" stroke-width="0.25" font-size="16.7" text-anchor="middle" textLength="210" lengthAdjust="spacingAndGlyphs">3:30:00 after earthquake</text>
</svg>
</body></html>
